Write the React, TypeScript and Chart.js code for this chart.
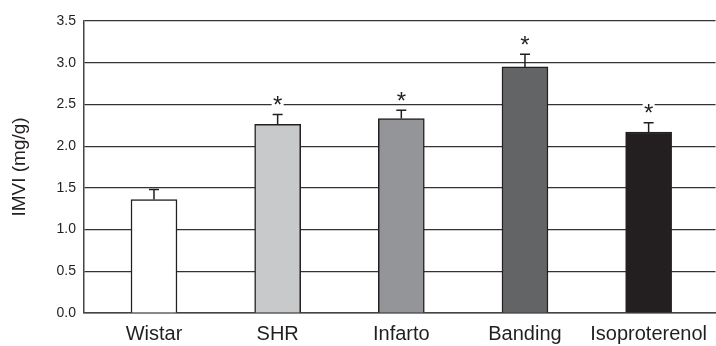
import React, { useEffect, useRef } from "react";
import { Chart, registerables } from "chart.js";

Chart.register(...registerables);

const categories = ["Wistar", "SHR", "Infarto", "Banding", "Isoproterenol"];
const means = [1.36, 2.26, 2.33, 2.95, 2.17];
const sem = [0.12, 0.12, 0.1, 0.15, 0.11];
const significant = [false, true, true, true, true];
const barColors = ["#ffffff", "#c8c9cb", "#939598", "#636466", "#231f20"];
const yTicks = [0, 0.5, 1.0, 1.5, 2.0, 2.5, 3.0, 3.5];

const FONT = "'Liberation Sans', Arial, Helvetica, sans-serif";
const INK = "#231f20";

const errorPlugin = {
  id: "errorBars",
  afterDatasetsDraw(chart: any) {
    const { ctx, scales } = chart;
    const xs = scales.x;
    const ys = scales.y;
    ctx.save();
    means.forEach((m, i) => {
      const x = xs.getPixelForValue(i);
      const yTop = ys.getPixelForValue(m);
      const yErr = ys.getPixelForValue(m + sem[i]);
      ctx.strokeStyle = INK;
      ctx.lineWidth = 1.5;
      ctx.beginPath();
      ctx.moveTo(x, yTop);
      ctx.lineTo(x, yErr);
      ctx.moveTo(x - 5, yErr);
      ctx.lineTo(x + 5, yErr);
      ctx.stroke();
      if (significant[i]) {
        const yc = yErr - 13;
        ctx.fillStyle = "#ffffff";
        ctx.fillRect(x - 6, yc - 6, 12, 12);
        ctx.fillStyle = INK;
        ctx.font = `24px ${FONT}`;
        ctx.textAlign = "center";
        ctx.textBaseline = "middle";
        ctx.fillText("*", x, yc + 5);
      }
    });
    ctx.restore();
  },
};

export default function App() {
  const ref = useRef<HTMLCanvasElement>(null);
  useEffect(() => {
    if (!ref.current) return;
    const chart = new Chart(ref.current, {
      type: "bar",
      data: {
        datasets: [
          {
            data: means.map((v, i) => ({ x: i, y: v })),
            backgroundColor: barColors,
            borderColor: INK,
            borderWidth: 1.5,
            barThickness: 46,
          },
        ],
      },
      options: {
        responsive: false,
        animation: false,
        layout: { padding: { top: 21, right: 0, left: 0, bottom: 0 } },
        plugins: { legend: { display: false }, tooltip: { enabled: false } },
        scales: {
          x: {
            type: "linear",
            min: -0.566,
            max: 4.541,
            offset: false,
            grid: { display: false, drawTicks: false },
            border: { display: true, color: "#444", width: 1.5 },
            afterBuildTicks: (s: any) => {
              s.ticks = categories.map((_, i) => ({ value: i }));
            },
            afterFit: (s: any) => {
              s.height = 33;
            },
            ticks: {
              autoSkip: false,
              maxRotation: 0,
              padding: 9,
              color: INK,
              font: { family: FONT, size: 20 },
              callback: (v: any) => categories[v] ?? "",
            },
          },
          y: {
            min: 0,
            max: 3.5,
            afterBuildTicks: (s: any) => {
              s.ticks = yTicks.map((v) => ({ value: v }));
            },
            afterFit: (s: any) => {
              s.width = 84;
            },
            grid: { color: "#333", lineWidth: 1.2, drawTicks: false },
            border: { display: true, color: "#444", width: 1.5 },
            ticks: {
              padding: 8,
              color: INK,
              font: { family: FONT, size: 14 },
              callback: (v: any) => Number(v).toFixed(1),
            },
            title: {
              display: true,
              text: "IMVI (mg/g)",
              color: INK,
              font: { family: FONT, size: 19 },
              padding: { top: 8, bottom: 0 },
            },
          },
        },
      },
      plugins: [errorPlugin],
    });
    return () => chart.destroy();
  }, []);
  return (
    <div style={{ position: "fixed", left: 0, top: 0, width: 716, height: 346, background: "#fff" }}>
      <canvas ref={ref} width={716} height={346} />
    </div>
  );
}
